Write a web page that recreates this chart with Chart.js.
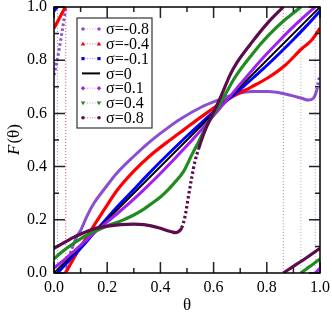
<!DOCTYPE html>
<html>
<head>
<meta charset="utf-8">
<script src="https://cdn.jsdelivr.net/npm/chart.js@4.4.1/dist/chart.umd.min.js"></script>
<style>
html, body { margin: 0; padding: 0; background: #fff; }
canvas { display: block; }
</style>
</head>
<body>
<canvas id="mycanvas" width="332" height="316"></canvas>
<script>
// values; a repeated theta marks the jump from 1 back to 0
var labels = ['σ=-0.8', 'σ=-0.4', 'σ=-0.1', 'σ=0', 'σ=0.1', 'σ=0.4', 'σ=0.8'];

var thetaM08 = [0, 0.01, 0.02, 0.03, 0.038, 0.045, 0.045, 0.055, 0.07, 0.085, 0.1, 0.125, 0.15, 0.188, 0.236, 0.298, 0.361, 0.42, 0.474, 0.555, 0.618, 0.68, 0.743, 0.806, 0.868, 0.931, 0.956, 0.975, 0.988, 0.994, 1];
var fM08 = [0.744, 0.79, 0.845, 0.905, 0.955, 1.0, 0, 0.05, 0.1, 0.135, 0.16, 0.216, 0.262, 0.314, 0.375, 0.437, 0.494, 0.54, 0.578, 0.624, 0.65, 0.672, 0.682, 0.682, 0.673, 0.657, 0.65, 0.657, 0.688, 0.72, 0.744];

var thetaM04 = [0, 0.02, 0.043, 0.043, 0.06, 0.08, 0.1, 0.125, 0.15, 0.188, 0.238, 0.3, 0.36, 0.436, 0.49, 0.555, 0.618, 0.68, 0.743, 0.806, 0.868, 0.931, 0.969, 1];
var fM04 = [0.92, 0.958, 1.0, 0, 0.03, 0.065, 0.098, 0.138, 0.178, 0.237, 0.312, 0.383, 0.44, 0.5, 0.54, 0.588, 0.632, 0.668, 0.7, 0.735, 0.78, 0.843, 0.876, 0.92];

var thetaM01 = [0, 0.013, 0.013, 0.05, 0.1, 0.15, 0.2, 0.25, 0.3, 0.35, 0.4, 0.45, 0.5, 0.55, 0.6, 0.65, 0.7, 0.75, 0.8, 0.85, 0.9, 0.95, 1];
var fM01 = [0.985, 1.0, 0, 0.04, 0.093, 0.15, 0.207, 0.262, 0.314, 0.367, 0.418, 0.467, 0.515, 0.561, 0.606, 0.648, 0.69, 0.735, 0.78, 0.828, 0.878, 0.93, 0.985];

var theta0 = [0, 0.25, 0.5, 0.75, 1];
var f0 = [0, 0.25, 0.5, 0.75, 1];

var thetaP01 = [0, 0.05, 0.1, 0.15, 0.2, 0.25, 0.3, 0.35, 0.4, 0.45, 0.5, 0.55, 0.6, 0.65, 0.7, 0.75, 0.8, 0.85, 0.9, 0.95, 0.982, 0.982, 1];
var fP01 = [0.018, 0.06, 0.104, 0.15, 0.192, 0.234, 0.278, 0.325, 0.374, 0.426, 0.479, 0.534, 0.592, 0.65, 0.71, 0.768, 0.824, 0.876, 0.926, 0.972, 1.0, 0, 0.018];

var thetaP04 = [0, 0.025, 0.05, 0.075, 0.11, 0.15, 0.2, 0.25, 0.3, 0.338, 0.361, 0.4, 0.424, 0.45, 0.486, 0.518, 0.543, 0.58, 0.624, 0.68, 0.743, 0.806, 0.868, 0.9, 0.928, 0.928, 0.95, 0.975, 1];
var fP04 = [0.053, 0.075, 0.095, 0.112, 0.135, 0.155, 0.177, 0.195, 0.218, 0.24, 0.257, 0.286, 0.308, 0.336, 0.38, 0.444, 0.492, 0.565, 0.635, 0.735, 0.82, 0.893, 0.952, 0.977, 1.0, 0, 0.016, 0.034, 0.053];

var thetaP08 = [0, 0.048, 0.075, 0.11, 0.15, 0.2, 0.25, 0.3, 0.338, 0.361, 0.4, 0.424, 0.445, 0.458, 0.47, 0.48, 0.492, 0.505, 0.518, 0.53, 0.543, 0.56, 0.574, 0.6, 0.63, 0.662, 0.687, 0.743, 0.806, 0.862, 0.862, 0.9, 0.931, 0.96, 1];
var fP08 = [0.093, 0.12, 0.135, 0.15, 0.166, 0.176, 0.182, 0.184, 0.182, 0.178, 0.168, 0.16, 0.154, 0.152, 0.157, 0.17, 0.21, 0.285, 0.36, 0.42, 0.465, 0.515, 0.55, 0.605, 0.67, 0.745, 0.79, 0.866, 0.943, 1.0, 0, 0.025, 0.045, 0.065, 0.093];

var majorTicks = [0, 0.2, 0.4, 0.6, 0.8, 1.0];
var minorTicks = [0.1, 0.3, 0.5, 0.7, 0.9];
var tickLabels = ['0.0', '0.2', '0.4', '0.6', '0.8', '1.0'];

var thetas = [thetaM08, thetaM04, thetaM01, theta0, thetaP01, thetaP04, thetaP08];
var values = [fM08, fM04, fM01, f0, fP01, fP04, fP08];
var colors = ['#8a4ed0', '#ff0000', '#0000ff', '#000000', '#a020f0', '#1f8c1f', '#5c0c4c'];
var joinColors = ['rgba(138,78,208,0.5)', 'rgba(255,0,0,0.5)', 'rgba(0,0,255,0.45)', '#000', 'rgba(160,32,240,0.5)', 'rgba(31,140,31,0.5)', 'rgba(92,12,76,0.5)'];
var widths = [3, 3.2, 3, 1.8, 3, 3.2, 3.2];
var markers = ['circle', 'triUp', 'square', null, 'diamond', 'triDown', 'circle'];

// steep stretches show up as separate dots in the reference
function steep(c) {
	var dx = c.p1.parsed.x - c.p0.parsed.x;
	var dy = c.p1.parsed.y - c.p0.parsed.y;
	return dx > 0 && Math.abs(dy / dx) > 3.2;
}
var steepStyle = {
	borderDash: function(c) { return steep(c) ? [2.5, 2.5] : undefined; }
};

// split every series at the wrap into branches plus a dotted vertical join
var datasets = [];
for (var s = 0; s < thetas.length; s++) {
	var branch = [];
	for (var i = 0; i < thetas[s].length; i++) {
		if (i > 0 && thetas[s][i] === thetas[s][i - 1]) {
			datasets.push({ data: branch, borderColor: colors[s], borderWidth: widths[s], order: 20 - s, segment: steepStyle });
			datasets.push({
				data: [{ x: thetas[s][i], y: values[s][i - 1] }, { x: thetas[s][i], y: values[s][i] }],
				borderColor: joinColors[s], borderWidth: 1, borderDash: [1, 2], order: 40 - s
			});
			branch = [];
		}
		branch.push({ x: thetas[s][i], y: values[s][i] });
	}
	datasets.push({ data: branch, borderColor: colors[s], borderWidth: widths[s], order: 20 - s, segment: steepStyle });
}

var serif = '"Liberation Serif", "DejaVu Serif", serif';

function drawMarker(ctx, kind, x, y, color) {
	ctx.fillStyle = color;
	ctx.beginPath();
	if (kind === 'circle') {
		ctx.arc(x, y, 1.8, 0, Math.PI * 2);
	} else if (kind === 'triUp') {
		ctx.moveTo(x, y - 2.2); ctx.lineTo(x + 2.2, y + 1.6); ctx.lineTo(x - 2.2, y + 1.6);
	} else if (kind === 'triDown') {
		ctx.moveTo(x, y + 2.2); ctx.lineTo(x + 2.2, y - 1.6); ctx.lineTo(x - 2.2, y - 1.6);
	} else if (kind === 'square') {
		ctx.rect(x - 1.6, y - 1.6, 3.2, 3.2);
	} else if (kind === 'diamond') {
		ctx.moveTo(x, y - 2.2); ctx.lineTo(x + 2.2, y); ctx.lineTo(x, y + 2.2); ctx.lineTo(x - 2.2, y);
	}
	ctx.closePath();
	ctx.fill();
}

var framePlugin = {
	id: 'frame',
	afterDatasetsDraw: function(chart) {
		var ctx = chart.ctx, a = chart.chartArea, xs = chart.scales.x, ys = chart.scales.y;
		ctx.save();
		ctx.strokeStyle = '#222';
		ctx.lineWidth = 1.5;
		var ticks = [];
		majorTicks.forEach(function(v) { ticks.push([v, 11]); });
		minorTicks.forEach(function(v) { ticks.push([v, 5]); });
		ticks.forEach(function(t) {
			var px = xs.getPixelForValue(t[0]), py = ys.getPixelForValue(t[0]);
			ctx.beginPath();
			ctx.moveTo(px, a.bottom); ctx.lineTo(px, a.bottom - t[1]);
			ctx.moveTo(px, a.top); ctx.lineTo(px, a.top + t[1]);
			ctx.moveTo(a.left, py); ctx.lineTo(a.left + t[1], py);
			ctx.moveTo(a.right, py); ctx.lineTo(a.right - t[1], py);
			ctx.stroke();
		});
		ctx.strokeStyle = '#000';
		ctx.strokeRect(a.left, a.top, a.right - a.left, a.bottom - a.top);

		ctx.fillStyle = '#000';
		ctx.font = '16px ' + serif;
		ctx.textAlign = 'center';
		ctx.textBaseline = 'middle';
		majorTicks.forEach(function(v, k) {
			ctx.fillText(tickLabels[k], xs.getPixelForValue(v), a.bottom + 15);
		});
		ctx.textAlign = 'right';
		majorTicks.forEach(function(v, k) {
			ctx.fillText(tickLabels[k], a.left - 7, ys.getPixelForValue(v));
		});

		// axis titles
		ctx.font = '17px ' + serif;
		ctx.textAlign = 'center';
		ctx.fillText('θ', (a.left + a.right) / 2, a.bottom + 33);
		ctx.save();
		ctx.translate(15, (a.top + a.bottom) / 2);
		ctx.rotate(-Math.PI / 2);
		ctx.font = 'italic 17px ' + serif;
		var w1 = ctx.measureText('F').width;
		ctx.font = '17px ' + serif;
		var w2 = ctx.measureText('(θ)').width;
		ctx.textAlign = 'left';
		ctx.font = 'italic 17px ' + serif;
		ctx.fillText('F', -(w1 + w2) / 2, 0);
		ctx.font = '17px ' + serif;
		ctx.fillText('(θ)', -(w1 + w2) / 2 + w1 + 1, 0);
		ctx.restore();

		// legend box
		var bx = 77, by = 18, bw = 75, bh = 110;
		ctx.fillStyle = '#fff';
		ctx.fillRect(bx, by, bw, bh);
		ctx.strokeStyle = '#333';
		ctx.lineWidth = 1.2;
		ctx.strokeRect(bx, by, bw, bh);
		ctx.font = '16px ' + serif;
		ctx.textAlign = 'left';
		for (var k = 0; k < labels.length; k++) {
			var ly = 29 + k * 14.8;
			ctx.beginPath();
			ctx.strokeStyle = k === 3 ? '#000' : joinColors[k];
			ctx.lineWidth = k === 3 ? 2 : 1;
			ctx.setLineDash(k === 3 ? [] : [1, 1.5]);
			ctx.moveTo(82, ly); ctx.lineTo(100, ly);
			ctx.stroke();
			ctx.setLineDash([]);
			if (markers[k]) {
				drawMarker(ctx, markers[k], 83, ly, colors[k]);
				drawMarker(ctx, markers[k], 99, ly, colors[k]);
			}
			ctx.fillStyle = '#000';
			ctx.fillText(labels[k], 106, ly + 1);
		}
		ctx.restore();
	}
};

var ctx = document.getElementById('mycanvas');
var chart = new Chart(ctx, {
	type: 'scatter',
	data: { datasets: datasets },
	options: {
		responsive: false,
		animation: false,
		showLine: true,
		layout: { padding: { left: 54, right: 12, top: 7, bottom: 43 } },
		elements: {
			point: { radius: 0, hoverRadius: 0 },
			line: { cubicInterpolationMode: 'monotone', borderCapStyle: 'butt', fill: false }
		},
		scales: {
			x: { type: 'linear', min: 0, max: 1, display: false },
			y: { type: 'linear', min: 0, max: 1, display: false }
		},
		plugins: { legend: { display: false }, tooltip: { enabled: false } }
	},
	plugins: [framePlugin]
});
</script>
</body>
</html>
